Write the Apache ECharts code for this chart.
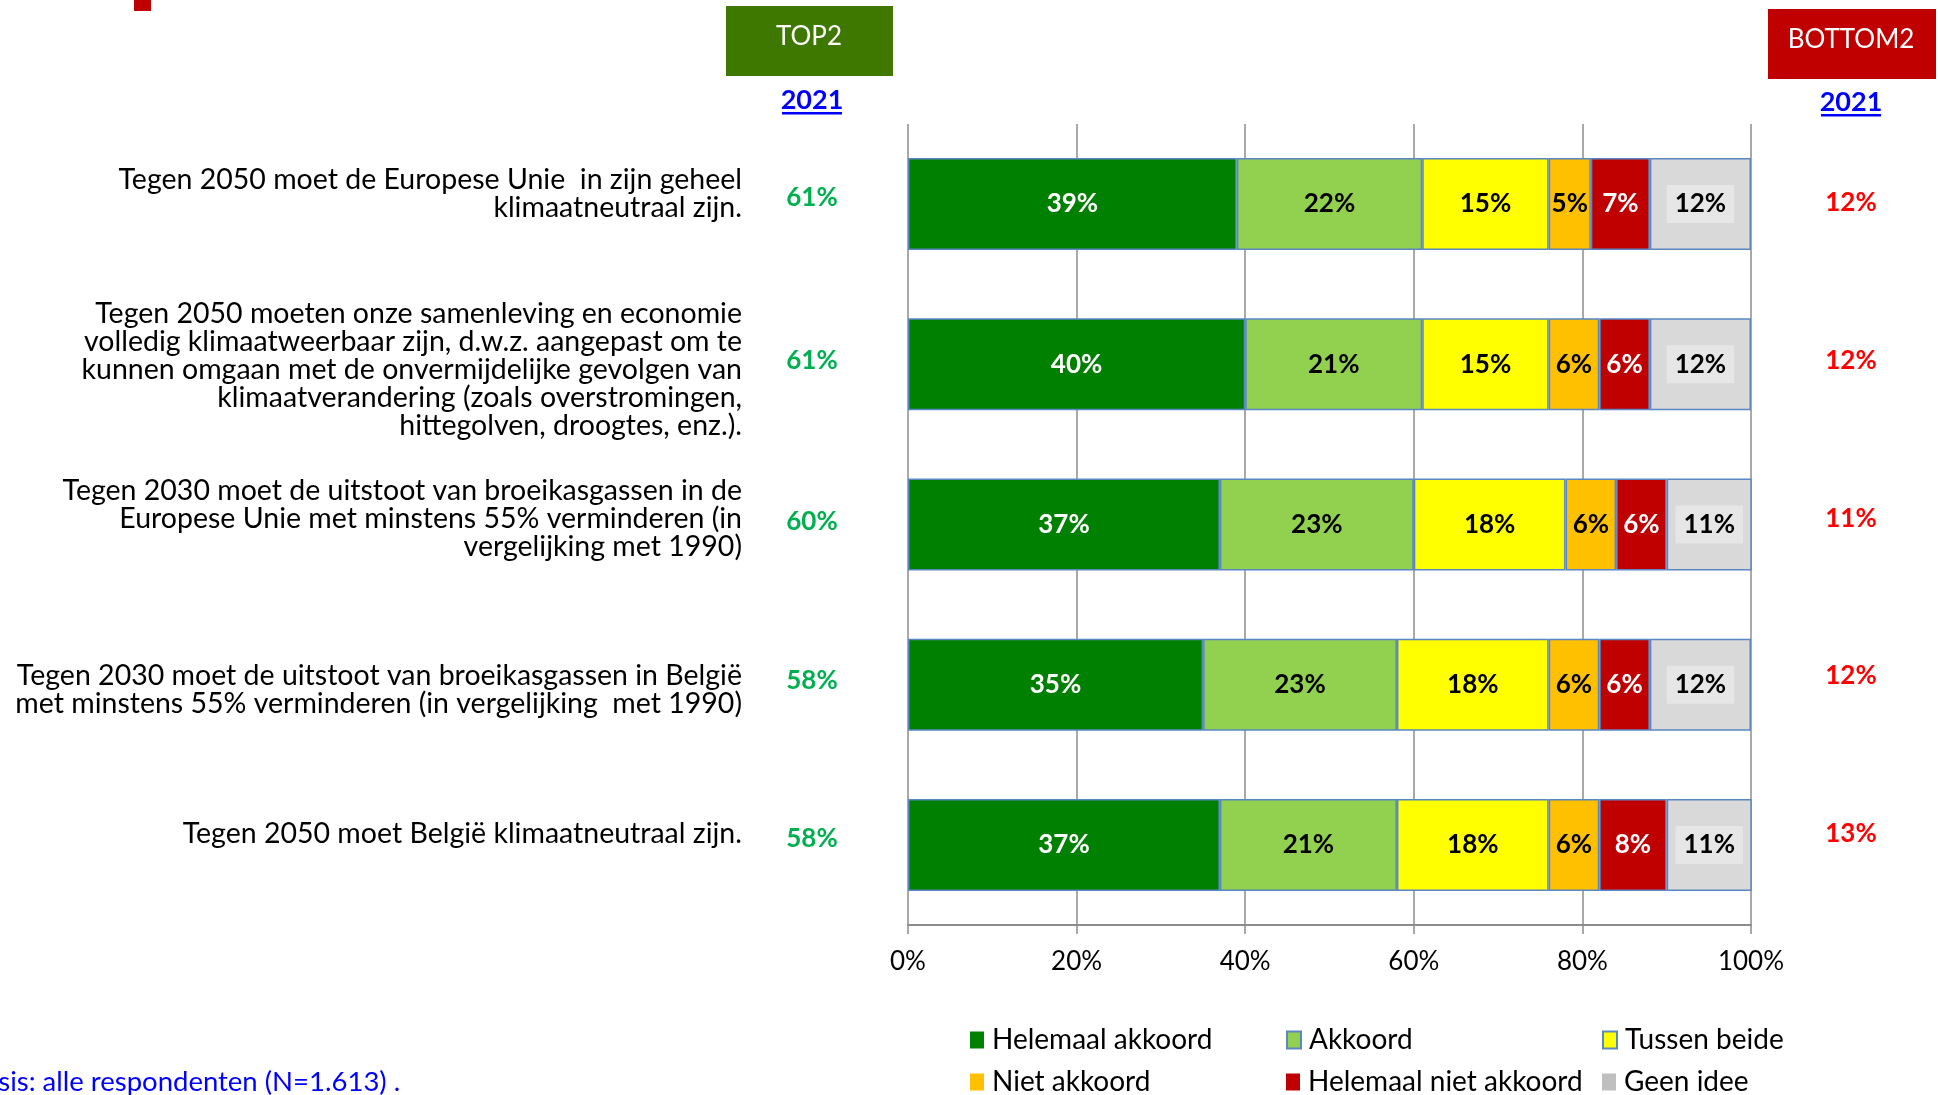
<!DOCTYPE html>
<html>
<head>
<meta charset="utf-8">
<title>Klimaatdoelstellingen 2021</title>
<script src="https://cdn.jsdelivr.net/npm/echarts@6/dist/echarts.min.js"></script>
<style>
  html, body { margin: 0; padding: 0; background: #ffffff; }
  #chart { width: 1938px; height: 1095px; }
</style>
</head>
<body>
<div id="chart"></div>
<script>
// Statements (top to bottom)
const statements = [
  'Tegen 2050 moet de Europese Unie  in zijn geheel\nklimaatneutraal zijn.',
  'Tegen 2050 moeten onze samenleving en economie\nvolledig klimaatweerbaar zijn, d.w.z. aangepast om te\nkunnen omgaan met de onvermijdelijke gevolgen van\nklimaatverandering (zoals overstromingen,\nhittegolven, droogtes, enz.).',
  'Tegen 2030 moet de uitstoot van broeikasgassen in de\nEuropese Unie met minstens 55% verminderen (in\nvergelijking met 1990)',
  'Tegen 2030 moet de uitstoot van broeikasgassen in België\nmet minstens 55% verminderen (in vergelijking  met 1990)',
  'Tegen 2050 moet België klimaatneutraal zijn.'
];

// Answer shares (%) per statement
const helemaalAkkoord     = [39, 40, 37, 35, 37];
const akkoord             = [22, 21, 23, 23, 21];
const tussenBeide         = [15, 15, 18, 18, 18];
const nietAkkoord         = [5, 6, 6, 6, 6];
const helemaalNietAkkoord = [7, 6, 6, 6, 8];
const geenIdee            = [12, 12, 11, 12, 11];

// Summary columns (%)
const top2    = [61, 61, 60, 58, 58];
const bottom2 = [12, 12, 11, 12, 13];

// Axis ticks
const xTicks = { min: 0, max: 100, interval: 20 };

// Vertical nudges (px, negative = up) for the text columns beside the bars
const statementShift = [-10, 6, -6, 5, -11];
const top2Shift      = [-6, -4, -3, -4, -6];
const bottom2Shift   = [-1, -4, -6, -9, -11];

const FONT = 'Lato';
const BORDER = '#5A86C2';

const seriesDefs = [
  { name: 'Helemaal akkoord',      data: helemaalAkkoord,     color: '#008000', label: '#ffffff' },
  { name: 'Akkoord',               data: akkoord,             color: '#92D050', label: '#000000' },
  { name: 'Tussen beide',          data: tussenBeide,         color: '#FFFF00', label: '#000000' },
  { name: 'Niet akkoord',          data: nietAkkoord,         color: '#FFC000', label: '#000000' },
  { name: 'Helemaal niet akkoord', data: helemaalNietAkkoord, color: '#C00000', label: '#ffffff' },
  { name: 'Geen idee',             data: geenIdee,            color: '#D9D9D9', label: '#000000' }
];

// Builds a rich-text label whose block is moved up/down by a spacer line
function shiftedLabel(prefix, baseStyle, shifts) {
  const rich = { [prefix]: baseStyle };
  shifts.forEach(function (s, i) {
    rich[prefix + 's' + i] = { fontSize: 2, lineHeight: Math.max(1, Math.abs(s) * 2) };
  });
  return {
    rich: rich,
    formatter: function (value, index) {
      const lines = String(value).split('\n').map(function (l) { return '{' + prefix + '|' + l + '}'; });
      const s = shifts[index] || 0;
      const spacer = '{' + prefix + 's' + index + '| }';
      if (s < 0) lines.push(spacer);
      else if (s > 0) lines.unshift(spacer);
      return lines.join('\n');
    }
  };
}

const series = seriesDefs.map(function (s) {
  const lbl = {
    show: true,
    position: 'inside',
    formatter: '{c}%',
    color: s.label,
    fontFamily: FONT,
    fontSize: 26,
    fontWeight: 'bold'
  };
  if (s.name === 'Geen idee') {
    lbl.backgroundColor = '#E6E6E6';
    lbl.padding = [5, 8, 7, 8];
  }
  return {
    name: s.name,
    type: 'bar',
    stack: 'total',
    barWidth: 92,
    data: s.data,
    itemStyle: { color: s.color, borderColor: BORDER, borderWidth: 1.5 },
    label: lbl,
    emphasis: { disabled: true }
  };
});

// Legend: one box per entry, laid out in a 3 x 2 block
const legendLayout = [
  { name: 'Helemaal akkoord',      left: 970,  top: 1026 },
  { name: 'Akkoord',               left: 1286, top: 1026 },
  { name: 'Tussen beide',          left: 1602, top: 1026 },
  { name: 'Niet akkoord',          left: 970,  top: 1068 },
  { name: 'Helemaal niet akkoord', left: 1286, top: 1068 },
  { name: 'Geen idee',             left: 1602, top: 1068 }
];
const legends = legendLayout.map(function (l) {
  const def = seriesDefs.find(function (s) { return s.name === l.name; });
  const bordered = (l.name === 'Akkoord' || l.name === 'Tussen beide');
  return {
    left: l.left,
    top: l.top,
    padding: 0,
    itemWidth: 14,
    itemHeight: 17,
    icon: 'rect',
    selectedMode: false,
    textStyle: { fontFamily: FONT, fontSize: 28, color: '#000000', lineHeight: 28, padding: [0, 0, 0, 3] },
    data: [{
      name: l.name,
      itemStyle: {
        color: l.name === 'Geen idee' ? '#BFBFBF' : def.color,
        borderColor: BORDER,
        borderWidth: bordered ? 2 : 0
      }
    }]
  };
});

const statementLabel = shiftedLabel('q', { fontFamily: FONT, fontSize: 28.5, lineHeight: 28, color: '#000000', align: 'right' }, statementShift);
const top2Label = shiftedLabel('t', { fontFamily: FONT, fontSize: 26, lineHeight: 28, fontWeight: 'bold', color: '#00B050', align: 'center' }, top2Shift);
const bottom2Label = shiftedLabel('b', { fontFamily: FONT, fontSize: 26, lineHeight: 28, fontWeight: 'bold', color: '#FF0000', align: 'center' }, bottom2Shift);

const chart = echarts.init(document.getElementById('chart'), null, { renderer: 'canvas' });

chart.setOption({
  backgroundColor: '#ffffff',
  animation: false,
  textStyle: { fontFamily: FONT },
  grid: {
    left: 908, right: 187, top: 124, bottom: 170,
    containLabel: false,
    outerBoundsMode: 'none'
  },
  xAxis: {
    type: 'value',
    min: xTicks.min,
    max: xTicks.max,
    interval: xTicks.interval,
    axisLine: { show: true, lineStyle: { color: '#8C8C8C', width: 2 } },
    axisTick: { show: true, length: 9, lineStyle: { color: '#8C8C8C', width: 1.5 } },
    splitLine: { show: true, lineStyle: { color: '#8C8C8C', width: 1.5 } },
    axisLabel: {
      formatter: '{value}%',
      color: '#000000',
      fontFamily: FONT,
      fontSize: 26,
      margin: 24
    }
  },
  yAxis: [
    {
      type: 'category',
      inverse: true,
      position: 'left',
      data: statements,
      axisLine: { show: false },
      axisTick: { show: false },
      axisLabel: {
        margin: 166,
        align: 'right',
        color: '#000000',
        fontFamily: FONT,
        fontSize: 28.5,
        lineHeight: 28,
        formatter: statementLabel.formatter,
        rich: statementLabel.rich
      }
    },
    {
      type: 'category',
      inverse: true,
      position: 'left',
      offset: 0,
      data: top2.map(function (v) { return v + '%'; }),
      axisLine: { show: false },
      axisTick: { show: false },
      axisLabel: {
        margin: 96,
        align: 'center',
        color: '#00B050',
        fontFamily: FONT,
        fontSize: 26,
        fontWeight: 'bold',
        formatter: top2Label.formatter,
        rich: top2Label.rich
      }
    },
    {
      type: 'category',
      inverse: true,
      position: 'right',
      offset: 0,
      data: bottom2.map(function (v) { return v + '%'; }),
      axisLine: { show: false },
      axisTick: { show: false },
      axisLabel: {
        margin: 100,
        align: 'center',
        color: '#FF0000',
        fontFamily: FONT,
        fontSize: 26,
        fontWeight: 'bold',
        formatter: bottom2Label.formatter,
        rich: bottom2Label.rich
      }
    }
  ],
  legend: legends,
  graphic: [
    { type: 'rect', shape: { x: 134, y: 0, width: 17, height: 11 }, style: { fill: '#C00000' } },
    // TOP2 header
    { type: 'rect', shape: { x: 726, y: 6, width: 167, height: 70 }, style: { fill: '#3F7800' } },
    { type: 'text', x: 809, y: 37, style: { text: 'TOP2', fill: '#ffffff', font: '26px ' + FONT, align: 'center', verticalAlign: 'middle' } },
    { type: 'text', x: 812, y: 100, style: { text: '2021', fill: '#0000FF', font: 'bold 27px ' + FONT, align: 'center', verticalAlign: 'middle' } },
    { type: 'rect', shape: { x: 782, y: 112, width: 60, height: 2.5 }, style: { fill: '#0000FF' } },
    // BOTTOM2 header
    { type: 'rect', shape: { x: 1768, y: 9, width: 168, height: 70 }, style: { fill: '#C00000' } },
    { type: 'text', x: 1851, y: 40, style: { text: 'BOTTOM2', fill: '#ffffff', font: '26px ' + FONT, align: 'center', verticalAlign: 'middle' } },
    { type: 'text', x: 1851, y: 102, style: { text: '2021', fill: '#0000FF', font: 'bold 27px ' + FONT, align: 'center', verticalAlign: 'middle' } },
    { type: 'rect', shape: { x: 1821, y: 114, width: 60, height: 2.5 }, style: { fill: '#0000FF' } },
    // Footnote
    { type: 'text', x: -33, y: 1082, style: { text: 'Basis: alle respondenten (N=1.613) .', fill: '#0000FF', font: '27.5px ' + FONT, align: 'left', verticalAlign: 'middle' } }
  ],
  series: series
});
</script>
</body>
</html>
